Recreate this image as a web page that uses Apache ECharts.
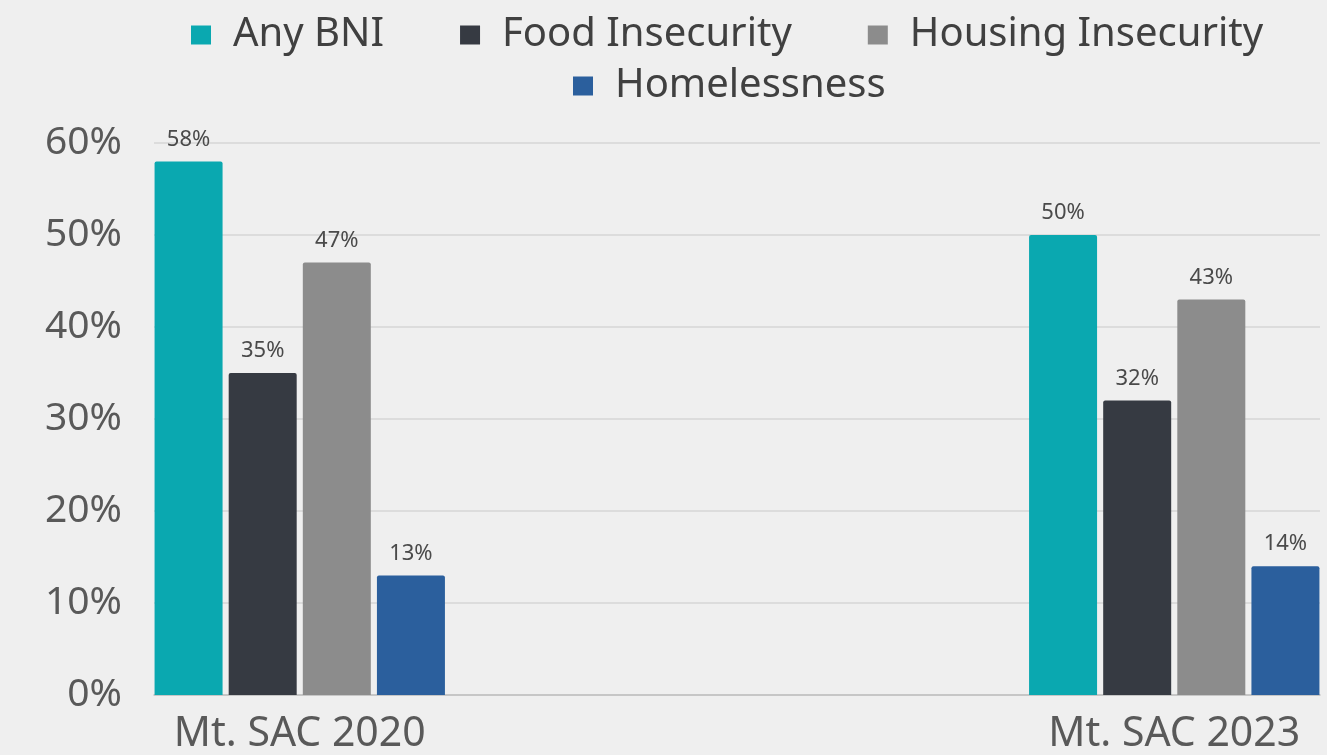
<!DOCTYPE html>
<html><head><meta charset="utf-8">
<script src="https://cdn.jsdelivr.net/npm/echarts@6/dist/echarts.min.js"></script>
<style>html,body{margin:0;padding:0;background:#efefef;}#c{width:1327px;height:755px;}</style>
</head><body><div id="c"></div>
<script>
const categories = ['Mt. SAC 2020', 'Mt. SAC 2023'];
const seriesNames = ['Any BNI', 'Food Insecurity', 'Housing Insecurity', 'Homelessness'];
const anyBNI = [58, 50];
const foodInsecurity = [35, 32];
const housingInsecurity = [47, 43];
const homelessness = [13, 14];
const yTicks = [0, 10, 20, 30, 40, 50, 60];
const colors = ['#0aa8b0', '#363a42', '#8c8c8c', '#2b5f9d'];

// axis slots: the two groups sit at the outer quarters of the plot
const slots = [0, 3];
const axisData = ['', '', '', ''];
slots.forEach((s, i) => axisData[s] = categories[i]);
function spread(vals) { const a = [null, null, null, null]; slots.forEach((s, i) => a[s] = vals[i]); return a; }

const font = 'Noto Sans';
const chart = echarts.init(document.getElementById('c'), null, {renderer: 'canvas'});
const allVals = [anyBNI, foodInsecurity, housingInsecurity, homelessness];
chart.setOption({
  backgroundColor: '#efefef',
  animation: false,
  textStyle: {fontFamily: font},
  grid: {left: 154, right: 7, top: 143, bottom: 60, containLabel: false},
  legend: [{
    data: seriesNames.slice(0, 3), left: 186, top: 10, itemWidth: 20, itemHeight: 19, itemGap: 76, icon: 'rect',
    textStyle: {fontFamily: font, fontSize: 40, color: '#404040', padding: [0, 0, 0, 17]}
  }, {
    data: seriesNames.slice(3), left: 568, top: 61, itemWidth: 20, itemHeight: 19, icon: 'rect',
    textStyle: {fontFamily: font, fontSize: 40, color: '#404040', padding: [0, 0, 0, 17]}
  }],
  xAxis: {
    type: 'category', data: axisData,
    axisLine: {lineStyle: {color: '#bfbfbf', width: 1.5}},
    axisTick: {show: false},
    axisLabel: {interval: 0, fontFamily: font, fontSize: 41, color: '#595959', margin: 19}
  },
  yAxis: {
    type: 'value', min: yTicks[0], max: yTicks[yTicks.length - 1], interval: yTicks[1] - yTicks[0],
    axisLine: {show: false}, axisTick: {show: false},
    splitLine: {lineStyle: {color: '#d6d6d6', width: 1.5}},
    axisLabel: {fontFamily: font, fontSize: 39, color: '#595959', margin: 32, formatter: v => v + '%'}
  },
  series: seriesNames.map((n, i) => ({
    name: n, type: 'bar', data: spread(allVals[i]),
    barWidth: 68, barGap: '9%',
    itemStyle: {color: colors[i], borderRadius: [2, 2, 0, 0]},
    label: {show: true, position: 'top', distance: 11, fontFamily: font, fontSize: 22, color: '#4a4a4a', formatter: p => p.value == null ? '' : p.value + '%'}
  }))
});
</script></body></html>
